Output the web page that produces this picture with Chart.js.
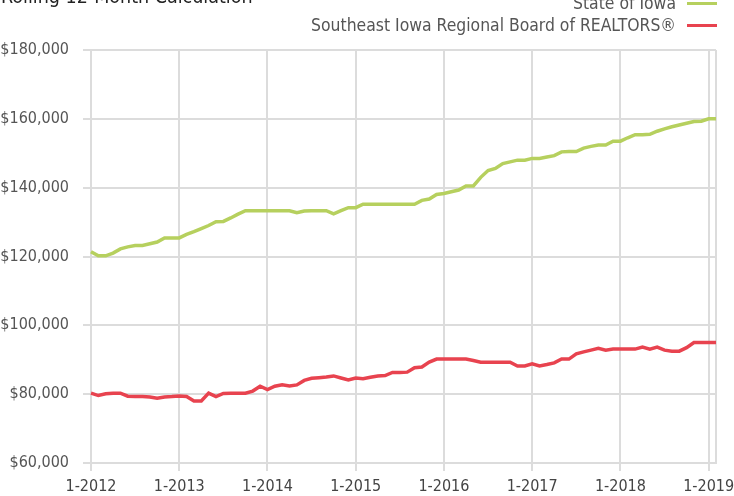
<!DOCTYPE html>
<html>
<head>
<meta charset="utf-8">
<script src="https://cdn.jsdelivr.net/npm/chart.js@4"></script>
<style>
  body { margin: 0; background: #fff; overflow: hidden; }
  #wrap { position: relative; width: 734px; height: 496px; }
  #title { position: absolute; left: 1px; top: -15px; font: 19.5px "Liberation Sans Narrow", "DejaVu Sans Condensed", sans-serif; color: #222; white-space: nowrap; }
  .leg { position: absolute; right: 17px; font: 17.4px "Liberation Sans Narrow", "DejaVu Sans Condensed", sans-serif; color: #555; white-space: nowrap; display: flex; align-items: center; }
  .leg span.sw { display: inline-block; width: 30px; height: 3px; margin-left: 11px; }
</style>
</head>
<body>
<div id="wrap">
  <canvas id="chart" width="734" height="496"></canvas>
  <div id="title">Rolling 12-Month Calculation</div>
  <div class="leg" style="top:-7px">State of Iowa<span class="sw" style="background:#b6d05e"></span></div>
  <div class="leg" style="top:15px">Southeast Iowa Regional Board of REALTORS®<span class="sw" style="background:#e8434f"></span></div>
</div>
<script>
// monthly labels 1-2012 .. 2-2019
const years = [2012, 2013, 2014, 2015, 2016, 2017, 2018, 2019];
const months = [];
years.forEach(y => {
  for (let m = 1; m <= 12; m++) {
    if (y === 2019 && m > 2) break;
    months.push(m + '-' + y);
  }
});

const stateOfIowa = [
  121400, 120200, 120200, 121000, 122200, 122800, 123200, 123200, 123700, 124200, 125400, 125400,
  125400, 126400, 127200, 128100, 129000, 130100, 130200, 131200, 132300, 133300, 133300, 133300,
  133300, 133300, 133300, 133300, 132700, 133200, 133300, 133300, 133300, 132400, 133300, 134200,
  134200, 135200, 135200, 135200, 135200, 135200, 135200, 135200, 135200, 136300, 136700, 138000,
  138300, 138800, 139300, 140500, 140500, 143000, 145000, 145600, 147000, 147500, 148000, 148000,
  148500, 148500, 148900, 149300, 150400, 150500, 150500, 151500, 152000, 152400, 152400, 153500,
  153500, 154500, 155400, 155400, 155500, 156400, 157100, 157700, 158200, 158700, 159200, 159300,
  160000, 160000
];

const southeastIowa = [
  80300, 79600, 80100, 80300, 80300, 79400, 79300, 79300, 79200, 78800, 79200, 79300,
  79500, 79300, 78000, 78000, 80300, 79300, 80200, 80300, 80300, 80300, 80900, 82300,
  81300, 82300, 82700, 82400, 82700, 84000, 84600, 84800, 85000, 85300, 84700, 84100,
  84700, 84500, 84900, 85300, 85400, 86300, 86300, 86400, 87700, 87900, 89300, 90200,
  90200, 90200, 90200, 90200, 89800, 89300, 89300, 89300, 89300, 89300, 88200, 88200,
  88800, 88200, 88600, 89100, 90200, 90200, 91700, 92300, 92800, 93300, 92800, 93100,
  93100, 93100, 93100, 93700, 93100, 93700, 92800, 92500, 92500, 93500, 95000, 95000,
  95000, 95000
];

const yTicks = { min: 60000, max: 180000, step: 20000 };

const gridGray = '#dcdcdc';
const font = "'Liberation Sans Narrow', 'DejaVu Sans Condensed', sans-serif";
const lastIdx = months.length - 1;

new Chart(document.getElementById('chart'), {
  type: 'line',
  data: {
    labels: months,
    datasets: [
      { label: 'State of Iowa', data: stateOfIowa, borderColor: '#b6d05e', borderWidth: 3.5, pointRadius: 0, tension: 0 },
      { label: 'Southeast Iowa Regional Board of REALTORS®', data: southeastIowa, borderColor: '#e8434f', borderWidth: 3.5, pointRadius: 0, tension: 0 }
    ]
  },
  options: {
    responsive: false,
    animation: false,
    layout: { padding: { top: 50, right: 18, left: 0, bottom: 0 } },
    plugins: { legend: { display: false }, tooltip: { enabled: false } },
    scales: {
      x: {
        type: 'category',
        offset: false,
        afterFit: s => { s.height = 33; },
        border: { color: gridGray, width: 2 },
        grid: {
          lineWidth: 2,
          tickLength: 8,
          color: c => (c.index % 12 === 0 || c.index === lastIdx) ? gridGray : 'rgba(0,0,0,0)',
          tickColor: c => (c.index % 12 === 0) ? gridGray : 'rgba(0,0,0,0)'
        },
        ticks: {
          autoSkip: false, maxRotation: 0, minRotation: 0, padding: 6,
          color: '#444', font: { family: font, size: 16 },
          callback: (v, i) => i % 12 === 0 ? months[i] : ''
        }
      },
      y: {
        min: yTicks.min, max: yTicks.max,
        afterFit: s => { s.width = 91; },
        border: { color: gridGray, width: 2 },
        grid: { lineWidth: 2, tickLength: 8, color: gridGray },
        ticks: {
          stepSize: yTicks.step, padding: 14,
          color: '#555', font: { family: font, size: 16 },
          callback: v => '$' + v.toLocaleString('en-US')
        }
      }
    }
  }
});
</script>
</body>
</html>
